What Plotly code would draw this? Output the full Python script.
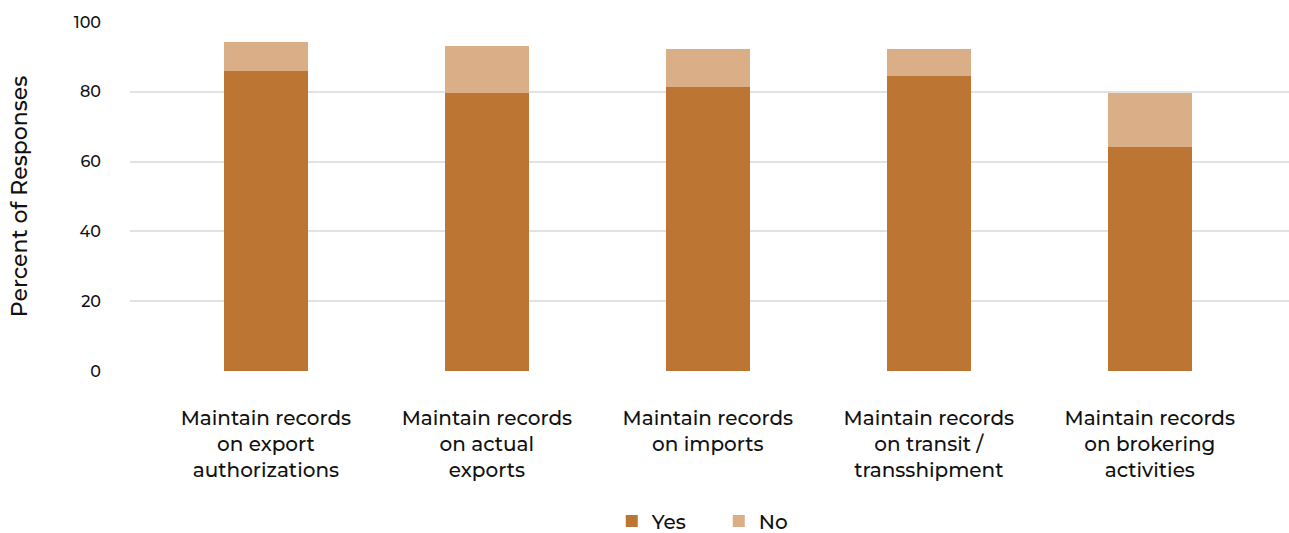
import plotly.graph_objects as go

categories = [
    "Maintain records<br>on export<br>authorizations",
    "Maintain records<br>on actual<br>exports",
    "Maintain records<br>on imports",
    "Maintain records<br>on transit /<br>transshipment",
    "Maintain records<br>on brokering<br>activities",
]
yes_values = [86.1, 79.7, 81.4, 84.6, 64.3]
no_values = [8.2, 13.5, 10.9, 7.7, 15.4]
y_ticks = [0, 20, 40, 60, 80, 100]

YES_COLOR = "#BD7533"
NO_COLOR = "#DAAE87"
FONT = "Montserrat, Noto Sans, Open Sans, sans-serif"

fig = go.Figure()
fig.add_trace(go.Bar(x=categories, y=yes_values, name="Yes",
                     marker=dict(color=YES_COLOR, line=dict(width=0)), width=0.38))
fig.add_trace(go.Bar(x=categories, y=no_values, name="No",
                     marker=dict(color=NO_COLOR, line=dict(width=0)), width=0.38))

fig.update_layout(
    barmode="stack",
    width=1289, height=533,
    margin=dict(l=130, r=0, t=22, b=162, autoexpand=False),
    paper_bgcolor="white", plot_bgcolor="white",
    font=dict(family=FONT, color="#111111", weight=500),
    legend=dict(orientation="h", x=0.508, xanchor="center", y=-0.43, yanchor="middle",
                font=dict(size=20, weight=500), itemwidth=30, traceorder="normal",
                entrywidth=62, entrywidthmode="pixels"),
    xaxis=dict(range=[-0.615, 4.63], showgrid=False, zeroline=False, showline=False,
               automargin=False,
               tickfont=dict(size=20, weight=500), ticks="", ticklabelstandoff=33),
    yaxis=dict(range=[0, 100], tickvals=y_ticks, showgrid=True, gridcolor="#E2E2E2",
               gridwidth=2, zeroline=False, showline=False, automargin=False,
               tickfont=dict(size=16, weight=500), ticklabelstandoff=28,
               title=dict(text="Percent of Responses", font=dict(size=22, weight=500),
                          standoff=40)),
    bargap=0.62,
)

fig.write_html("out.html")
